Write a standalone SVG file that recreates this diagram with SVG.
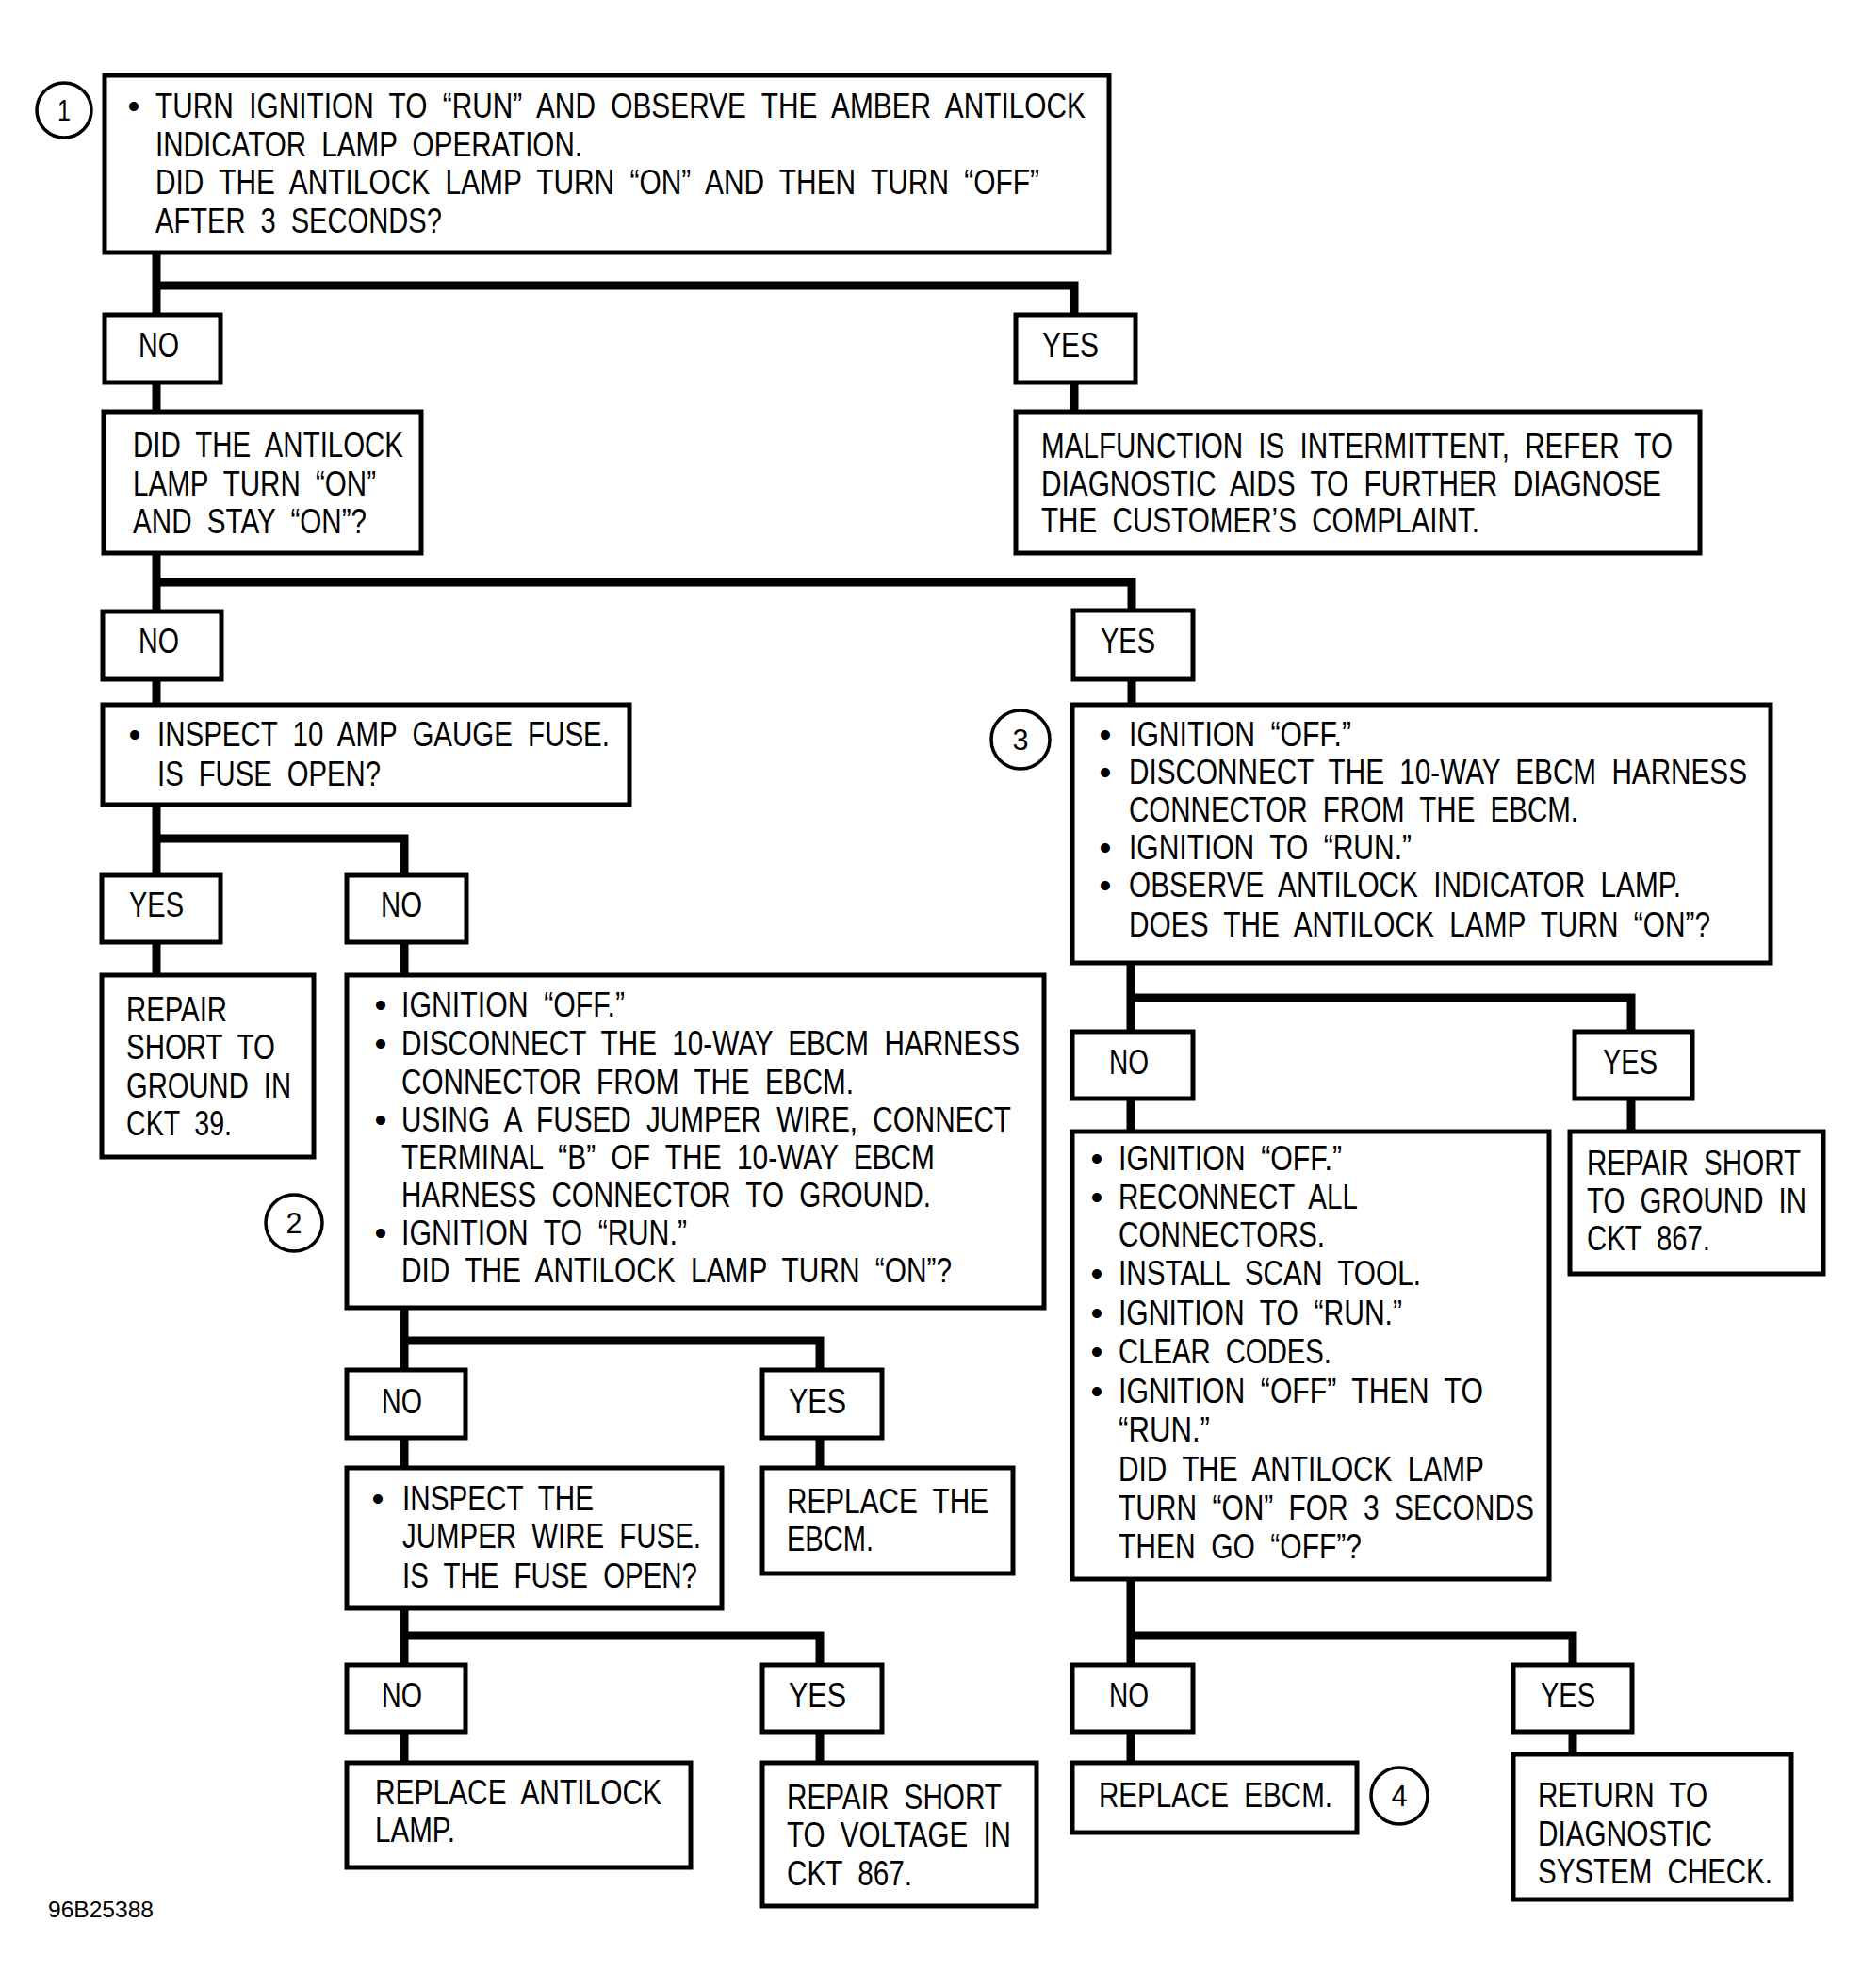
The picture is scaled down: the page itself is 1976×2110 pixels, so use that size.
<svg xmlns="http://www.w3.org/2000/svg" width="1976" height="2110" viewBox="0 0 1976 2110">
<style>
.bg{fill:#fff}
.box{fill:#fff;stroke:#000;stroke-width:5}
.con{fill:none;stroke:#000;stroke-width:9;stroke-linejoin:miter}
.circ{fill:#fff;stroke:#000;stroke-width:3.5}
.t{font-family:"Liberation Sans",Arial,Helvetica,sans-serif;font-size:37px;word-spacing:10px;fill:#000}
.b{font-family:"Liberation Sans",Arial,Helvetica,sans-serif;font-size:37px;fill:#000;text-anchor:middle}
.n{font-family:"Liberation Sans",Arial,Helvetica,sans-serif;font-size:32px;fill:#000;text-anchor:middle}
.lbl{font-family:"Liberation Sans",Arial,Helvetica,sans-serif;font-size:24px;fill:#000}
</style>
<rect class="bg" x="0" y="0" width="1976" height="2110"/>

<g id="connectors">
<path class="con" d="M166 268 V334 M166 303 H1140 V334"/>
<path class="con" d="M166 406 V437 M1140 406 V437"/>
<path class="con" d="M166 587 V649 M166 618 H1201 V648"/>
<path class="con" d="M166 721 V748 M1201 721 V748"/>
<path class="con" d="M166 854 V929 M166 890 H429 V929"/>
<path class="con" d="M166 1000 V1035 M429 1000 V1035"/>
<path class="con" d="M429 1388 V1454 M429 1423 H870 V1454"/>
<path class="con" d="M429 1526 V1558 M870 1526 V1558"/>
<path class="con" d="M429 1707 V1767 M429 1736 H870 V1767"/>
<path class="con" d="M429 1838 V1871 M870 1838 V1871"/>
<path class="con" d="M1200 1022 V1095 M1200 1059 H1731 V1095"/>
<path class="con" d="M1200 1166 V1201 M1731 1166 V1201"/>
<path class="con" d="M1200 1676 V1767 M1200 1736 H1669 V1767"/>
<path class="con" d="M1200 1838 V1871 M1669 1838 V1862"/>
</g>

<g id="step1">
<circle class="circ" cx="68" cy="117" r="29"/>
<text class="n" x="68" y="128" textLength="14" lengthAdjust="spacingAndGlyphs">1</text>
</g>

<g id="n-start">
<rect class="box" x="111" y="80" width="1066" height="188"/>
<text class="b" x="142" y="125">•</text>
<text class="t" x="165" y="125" textLength="987" lengthAdjust="spacingAndGlyphs">TURN IGNITION TO “RUN” AND OBSERVE THE AMBER ANTILOCK</text>
<text class="t" x="165" y="166" textLength="453" lengthAdjust="spacingAndGlyphs">INDICATOR LAMP OPERATION.</text>
<text class="t" x="165" y="206" textLength="938" lengthAdjust="spacingAndGlyphs">DID THE ANTILOCK LAMP TURN “ON” AND THEN TURN “OFF”</text>
<text class="t" x="165" y="247" textLength="304" lengthAdjust="spacingAndGlyphs">AFTER 3 SECONDS?</text>
</g>

<g id="no1">
<rect class="box" x="111" y="334" width="123" height="72"/>
<text class="t" x="147" y="379" textLength="43" lengthAdjust="spacingAndGlyphs">NO</text>
</g>
<g id="yes1">
<rect class="box" x="1078" y="334" width="127" height="72"/>
<text class="t" x="1106" y="379" textLength="60" lengthAdjust="spacingAndGlyphs">YES</text>
</g>

<g id="n-stay-on">
<rect class="box" x="110" y="437" width="337" height="150"/>
<text class="t" x="141" y="485" textLength="287" lengthAdjust="spacingAndGlyphs">DID THE ANTILOCK</text>
<text class="t" x="141" y="526" textLength="258" lengthAdjust="spacingAndGlyphs">LAMP TURN “ON”</text>
<text class="t" x="141" y="566" textLength="248" lengthAdjust="spacingAndGlyphs">AND STAY “ON”?</text>
</g>

<g id="n-intermittent">
<rect class="box" x="1078" y="437" width="726" height="150"/>
<text class="t" x="1105" y="486" textLength="670" lengthAdjust="spacingAndGlyphs">MALFUNCTION IS INTERMITTENT, REFER TO</text>
<text class="t" x="1105" y="526" textLength="658" lengthAdjust="spacingAndGlyphs">DIAGNOSTIC AIDS TO FURTHER DIAGNOSE</text>
<text class="t" x="1105" y="565" textLength="465" lengthAdjust="spacingAndGlyphs">THE CUSTOMER’S COMPLAINT.</text>
</g>

<g id="no2">
<rect class="box" x="109" y="649" width="126" height="72"/>
<text class="t" x="147" y="693" textLength="43" lengthAdjust="spacingAndGlyphs">NO</text>
</g>
<g id="yes2">
<rect class="box" x="1139" y="648" width="127" height="73"/>
<text class="t" x="1168" y="693" textLength="58" lengthAdjust="spacingAndGlyphs">YES</text>
</g>

<g id="n-gauge-fuse">
<rect class="box" x="109" y="748" width="559" height="106"/>
<text class="b" x="143" y="792">•</text>
<text class="t" x="167" y="792" textLength="480" lengthAdjust="spacingAndGlyphs">INSPECT 10 AMP GAUGE FUSE.</text>
<text class="t" x="167" y="834" textLength="237" lengthAdjust="spacingAndGlyphs">IS FUSE OPEN?</text>
</g>

<g id="yes3">
<rect class="box" x="108" y="929" width="126" height="71"/>
<text class="t" x="137" y="973" textLength="58" lengthAdjust="spacingAndGlyphs">YES</text>
</g>
<g id="no3">
<rect class="box" x="368" y="929" width="127" height="71"/>
<text class="t" x="404" y="973" textLength="44" lengthAdjust="spacingAndGlyphs">NO</text>
</g>

<g id="n-repair-39">
<rect class="box" x="108" y="1035" width="225" height="193"/>
<text class="t" x="134" y="1084" textLength="107" lengthAdjust="spacingAndGlyphs">REPAIR</text>
<text class="t" x="134" y="1124" textLength="158" lengthAdjust="spacingAndGlyphs">SHORT TO</text>
<text class="t" x="134" y="1165" textLength="175" lengthAdjust="spacingAndGlyphs">GROUND IN</text>
<text class="t" x="134" y="1205" textLength="112" lengthAdjust="spacingAndGlyphs">CKT 39.</text>
</g>

<g id="step2">
<circle class="circ" cx="312" cy="1298" r="30"/>
<text class="n" x="312" y="1309" textLength="17" lengthAdjust="spacingAndGlyphs">2</text>
</g>

<g id="n-jumper">
<rect class="box" x="368" y="1035" width="740" height="353"/>
<text class="b" x="404" y="1079">•</text>
<text class="t" x="426" y="1079" textLength="237" lengthAdjust="spacingAndGlyphs">IGNITION “OFF.”</text>
<text class="b" x="404" y="1120">•</text>
<text class="t" x="426" y="1120" textLength="656" lengthAdjust="spacingAndGlyphs">DISCONNECT THE 10-WAY EBCM HARNESS</text>
<text class="t" x="426" y="1161" textLength="480" lengthAdjust="spacingAndGlyphs">CONNECTOR FROM THE EBCM.</text>
<text class="b" x="404" y="1201">•</text>
<text class="t" x="426" y="1201" textLength="647" lengthAdjust="spacingAndGlyphs">USING A FUSED JUMPER WIRE, CONNECT</text>
<text class="t" x="426" y="1241" textLength="566" lengthAdjust="spacingAndGlyphs">TERMINAL “B” OF THE 10-WAY EBCM</text>
<text class="t" x="426" y="1281" textLength="562" lengthAdjust="spacingAndGlyphs">HARNESS CONNECTOR TO GROUND.</text>
<text class="b" x="404" y="1321">•</text>
<text class="t" x="426" y="1321" textLength="303" lengthAdjust="spacingAndGlyphs">IGNITION TO “RUN.”</text>
<text class="t" x="426" y="1361" textLength="584" lengthAdjust="spacingAndGlyphs">DID THE ANTILOCK LAMP TURN “ON”?</text>
</g>

<g id="step3">
<circle class="circ" cx="1083" cy="785" r="31"/>
<text class="n" x="1083" y="796" textLength="17" lengthAdjust="spacingAndGlyphs">3</text>
</g>

<g id="n-disconnect">
<rect class="box" x="1138" y="748" width="741" height="274"/>
<text class="b" x="1173" y="792">•</text>
<text class="t" x="1198" y="792" textLength="236" lengthAdjust="spacingAndGlyphs">IGNITION “OFF.”</text>
<text class="b" x="1173" y="832">•</text>
<text class="t" x="1198" y="832" textLength="656" lengthAdjust="spacingAndGlyphs">DISCONNECT THE 10-WAY EBCM HARNESS</text>
<text class="t" x="1198" y="872" textLength="477" lengthAdjust="spacingAndGlyphs">CONNECTOR FROM THE EBCM.</text>
<text class="b" x="1173" y="912">•</text>
<text class="t" x="1198" y="912" textLength="300" lengthAdjust="spacingAndGlyphs">IGNITION TO “RUN.”</text>
<text class="b" x="1173" y="952">•</text>
<text class="t" x="1198" y="952" textLength="586" lengthAdjust="spacingAndGlyphs">OBSERVE ANTILOCK INDICATOR LAMP.</text>
<text class="t" x="1198" y="994" textLength="617" lengthAdjust="spacingAndGlyphs">DOES THE ANTILOCK LAMP TURN “ON”?</text>
</g>

<g id="no4">
<rect class="box" x="1138" y="1095" width="128" height="71"/>
<text class="t" x="1177" y="1140" textLength="42" lengthAdjust="spacingAndGlyphs">NO</text>
</g>
<g id="yes4">
<rect class="box" x="1671" y="1095" width="125" height="71"/>
<text class="t" x="1701" y="1140" textLength="58" lengthAdjust="spacingAndGlyphs">YES</text>
</g>

<g id="n-clear-codes">
<rect class="box" x="1138" y="1201" width="506" height="475"/>
<text class="b" x="1164" y="1242">•</text>
<text class="t" x="1187" y="1242" textLength="237" lengthAdjust="spacingAndGlyphs">IGNITION “OFF.”</text>
<text class="b" x="1164" y="1283">•</text>
<text class="t" x="1187" y="1283" textLength="254" lengthAdjust="spacingAndGlyphs">RECONNECT ALL</text>
<text class="t" x="1187" y="1323" textLength="219" lengthAdjust="spacingAndGlyphs">CONNECTORS.</text>
<text class="b" x="1164" y="1364">•</text>
<text class="t" x="1187" y="1364" textLength="321" lengthAdjust="spacingAndGlyphs">INSTALL SCAN TOOL.</text>
<text class="b" x="1164" y="1406">•</text>
<text class="t" x="1187" y="1406" textLength="301" lengthAdjust="spacingAndGlyphs">IGNITION TO “RUN.”</text>
<text class="b" x="1164" y="1447">•</text>
<text class="t" x="1187" y="1447" textLength="226" lengthAdjust="spacingAndGlyphs">CLEAR CODES.</text>
<text class="b" x="1164" y="1489">•</text>
<text class="t" x="1187" y="1489" textLength="387" lengthAdjust="spacingAndGlyphs">IGNITION “OFF” THEN TO</text>
<text class="t" x="1187" y="1530" textLength="97" lengthAdjust="spacingAndGlyphs">“RUN.”</text>
<text class="t" x="1187" y="1572" textLength="388" lengthAdjust="spacingAndGlyphs">DID THE ANTILOCK LAMP</text>
<text class="t" x="1187" y="1613" textLength="441" lengthAdjust="spacingAndGlyphs">TURN “ON” FOR 3 SECONDS</text>
<text class="t" x="1187" y="1654" textLength="258" lengthAdjust="spacingAndGlyphs">THEN GO “OFF”?</text>
</g>

<g id="n-repair-867-ground">
<rect class="box" x="1666" y="1201" width="269" height="151"/>
<text class="t" x="1684" y="1247" textLength="227" lengthAdjust="spacingAndGlyphs">REPAIR SHORT</text>
<text class="t" x="1684" y="1287" textLength="233" lengthAdjust="spacingAndGlyphs">TO GROUND IN</text>
<text class="t" x="1684" y="1327" textLength="131" lengthAdjust="spacingAndGlyphs">CKT 867.</text>
</g>

<g id="no5">
<rect class="box" x="368" y="1454" width="126" height="72"/>
<text class="t" x="405" y="1500" textLength="43" lengthAdjust="spacingAndGlyphs">NO</text>
</g>
<g id="yes5">
<rect class="box" x="809" y="1454" width="127" height="72"/>
<text class="t" x="837" y="1500" textLength="61" lengthAdjust="spacingAndGlyphs">YES</text>
</g>

<g id="n-jumper-fuse">
<rect class="box" x="368" y="1558" width="398" height="149"/>
<text class="b" x="401" y="1603">•</text>
<text class="t" x="427" y="1603" textLength="203" lengthAdjust="spacingAndGlyphs">INSPECT THE</text>
<text class="t" x="427" y="1643" textLength="317" lengthAdjust="spacingAndGlyphs">JUMPER WIRE FUSE.</text>
<text class="t" x="427" y="1685" textLength="313" lengthAdjust="spacingAndGlyphs">IS THE FUSE OPEN?</text>
</g>

<g id="n-replace-ebcm-1">
<rect class="box" x="809" y="1558" width="266" height="112"/>
<text class="t" x="835" y="1606" textLength="214" lengthAdjust="spacingAndGlyphs">REPLACE THE</text>
<text class="t" x="835" y="1646" textLength="92" lengthAdjust="spacingAndGlyphs">EBCM.</text>
</g>

<g id="no6">
<rect class="box" x="368" y="1767" width="126" height="71"/>
<text class="t" x="405" y="1812" textLength="43" lengthAdjust="spacingAndGlyphs">NO</text>
</g>
<g id="yes6">
<rect class="box" x="809" y="1767" width="127" height="71"/>
<text class="t" x="837" y="1812" textLength="61" lengthAdjust="spacingAndGlyphs">YES</text>
</g>

<g id="n-replace-lamp">
<rect class="box" x="368" y="1871" width="365" height="111"/>
<text class="t" x="398" y="1915" textLength="304" lengthAdjust="spacingAndGlyphs">REPLACE ANTILOCK</text>
<text class="t" x="398" y="1955" textLength="85" lengthAdjust="spacingAndGlyphs">LAMP.</text>
</g>

<g id="n-repair-867-voltage">
<rect class="box" x="809" y="1871" width="291" height="152"/>
<text class="t" x="835" y="1920" textLength="228" lengthAdjust="spacingAndGlyphs">REPAIR SHORT</text>
<text class="t" x="835" y="1960" textLength="238" lengthAdjust="spacingAndGlyphs">TO VOLTAGE IN</text>
<text class="t" x="835" y="2001" textLength="133" lengthAdjust="spacingAndGlyphs">CKT 867.</text>
</g>

<g id="no7">
<rect class="box" x="1138" y="1767" width="128" height="71"/>
<text class="t" x="1177" y="1812" textLength="42" lengthAdjust="spacingAndGlyphs">NO</text>
</g>
<g id="yes7">
<rect class="box" x="1606" y="1767" width="126" height="71"/>
<text class="t" x="1635" y="1812" textLength="58" lengthAdjust="spacingAndGlyphs">YES</text>
</g>

<g id="n-replace-ebcm-2">
<rect class="box" x="1138" y="1871" width="302" height="74"/>
<text class="t" x="1166" y="1918" textLength="248" lengthAdjust="spacingAndGlyphs">REPLACE EBCM.</text>
</g>

<g id="step4">
<circle class="circ" cx="1485" cy="1906" r="30"/>
<text class="n" x="1485" y="1917" textLength="17" lengthAdjust="spacingAndGlyphs">4</text>
</g>

<g id="n-return">
<rect class="box" x="1606" y="1862" width="295" height="154"/>
<text class="t" x="1632" y="1918" textLength="180" lengthAdjust="spacingAndGlyphs">RETURN TO</text>
<text class="t" x="1632" y="1959" textLength="185" lengthAdjust="spacingAndGlyphs">DIAGNOSTIC</text>
<text class="t" x="1632" y="1999" textLength="249" lengthAdjust="spacingAndGlyphs">SYSTEM CHECK.</text>
</g>

<g id="figure-label">
<text class="lbl" x="51" y="2035" textLength="112" lengthAdjust="spacingAndGlyphs">96B25388</text>
</g>
</svg>
